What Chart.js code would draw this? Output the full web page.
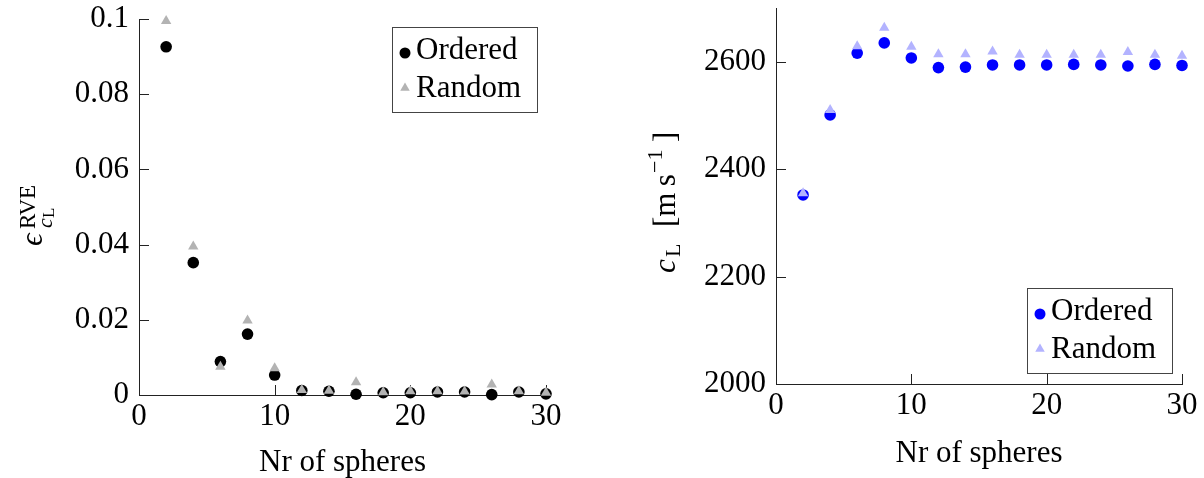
<!DOCTYPE html>
<html>
<head>
<meta charset="utf-8">
<script src="https://cdn.jsdelivr.net/npm/chart.js@4.4.0/dist/chart.umd.min.js"></script>
<style>
  html, body { margin: 0; padding: 0; background: #fff; }
  .panel { position: absolute; top: 0; }
  #leftPanel { left: 0; }
  #rightPanel { left: 620px; }
</style>
</head>
<body>
<div class="panel" id="leftPanel"><canvas id="errChart" width="590" height="478"></canvas></div>
<div class="panel" id="rightPanel"><canvas id="speedChart" width="584" height="478"></canvas></div>
<script>
// number of spheres in the RVE
const spheres = [2, 4, 6, 8, 10, 12, 14, 16, 18, 20, 22, 24, 26, 28, 30];

// RVE error of c_L
const errOrdered = [0.0926, 0.0352, 0.0089, 0.0162, 0.0053, 0.0012, 0.0010, 0.0002, 0.0006, 0.0006, 0.0008, 0.0008, 0.0001, 0.0008, 0.0003];
const errRandom  = [0.0995, 0.0395, 0.0075, 0.0198, 0.0071, 0.0013, 0.0011, 0.0034, 0.0007, 0.0010, 0.0010, 0.0009, 0.0028, 0.0010, 0.0006];

// longitudinal wave speed c_L [m/s]
const speedOrdered = [2352, 2501, 2616, 2635, 2607, 2589, 2590, 2594, 2594, 2594, 2595, 2594, 2592, 2595, 2593];
const speedRandom  = [2355, 2510, 2629, 2663, 2628, 2614, 2614, 2619, 2613, 2613, 2613, 2613, 2618, 2613, 2611];

const xTicks = [0, 10, 20, 30];
const errTicks = [0, 0.02, 0.04, 0.06, 0.08, 0.1];
const speedTicks = [2000, 2200, 2400, 2600];

const seriesNames = ['Ordered', 'Random'];
const xTitle = 'Nr of spheres';

const FONT = '"Liberation Serif", "Times New Roman", serif';
const axisColor = '#222';

function pts(ys) {
  return spheres.map((x, i) => ({ x: x, y: ys[i] }));
}

// short tick marks pointing into the plot, pgfplots style
const inwardTicks = {
  id: 'inwardTicks',
  beforeDatasetsDraw(chart) {
    const { ctx, chartArea: a, scales: { x, y } } = chart;
    ctx.save();
    ctx.strokeStyle = axisColor;
    ctx.lineWidth = 1;
    ctx.beginPath();
    x.ticks.forEach(t => {
      const px = Math.round(x.getPixelForValue(t.value)) + 0.5;
      ctx.moveTo(px, a.bottom);
      ctx.lineTo(px, a.bottom - 10);
    });
    y.ticks.forEach(t => {
      const py = Math.round(y.getPixelForValue(t.value)) + 0.5;
      ctx.moveTo(a.left, py);
      ctx.lineTo(a.left + 10, py);
    });
    ctx.stroke();
    ctx.restore();
  }
};

// boxed legend inside the plot area
const boxLegend = {
  id: 'boxLegend',
  afterDraw(chart, args, opts) {
    const { ctx, chartArea: a } = chart;
    const w = 145, h = 85;
    const left = a.right - opts.right - w;
    const top = opts.top != null ? a.top + opts.top : a.bottom - opts.bottom - h;
    ctx.save();
    ctx.fillStyle = '#fff';
    ctx.fillRect(left, top, w, h);
    ctx.strokeStyle = '#444';
    ctx.lineWidth = 1;
    ctx.strokeRect(Math.round(left) + 0.5, Math.round(top) + 0.5, w, h);
    ctx.font = '31px ' + FONT;
    ctx.textBaseline = 'alphabetic';
    ctx.textAlign = 'left';
    chart.data.datasets.forEach((ds, i) => {
      const my = top + 26 + i * 35;
      ctx.fillStyle = ds.backgroundColor;
      ctx.beginPath();
      if (ds.pointStyle === 'triangle') {
        const r = 5.5;
        ctx.moveTo(left + 13, my - r);
        ctx.lineTo(left + 13 + r * 0.866, my + r * 0.5);
        ctx.lineTo(left + 13 - r * 0.866, my + r * 0.5);
        ctx.closePath();
      } else {
        ctx.arc(left + 13, my, 5.5, 0, Math.PI * 2);
      }
      ctx.fill();
      ctx.fillStyle = '#000';
      ctx.fillText(ds.label, left + 24, top + 32 + i * 38);
    });
    ctx.restore();
  }
};

// rotated y axis title made of pieces (sub/superscripts)
const mathTitle = {
  id: 'mathTitle',
  afterDraw(chart, args, opts) {
    const { ctx } = chart;
    ctx.save();
    ctx.translate(opts.x, opts.y);
    ctx.rotate(-Math.PI / 2);
    ctx.fillStyle = '#000';
    ctx.textBaseline = 'alphabetic';
    ctx.textAlign = 'left';
    opts.parts.forEach(p => {
      ctx.font = p.font;
      ctx.fillText(p.text, p.dx, p.dy);
    });
    ctx.restore();
  }
};

function makeOptions(cfg) {
  return {
    responsive: false,
    animation: false,
    layout: { padding: { left: 0, top: cfg.padTop, right: cfg.padRight, bottom: 0 } },
    scales: {
      x: {
        type: 'linear',
        min: 0, max: 30,
        afterFit(s) { s.height = cfg.xHeight; },
        afterBuildTicks(s) { s.ticks = xTicks.map(v => ({ value: v })); },
        grid: { display: false, drawTicks: false },
        border: { display: true, color: axisColor, width: 1 },
        ticks: { color: '#000', font: { family: FONT, size: 31 }, padding: 3, maxRotation: 0 },
        title: { display: true, text: xTitle, color: '#000', font: { family: FONT, size: 31, lineHeight: 1 }, padding: { top: 0, bottom: cfg.titlePad } }
      },
      y: {
        type: 'linear',
        min: cfg.yMin, max: cfg.yMax,
        afterFit(s) { s.width = cfg.yWidth; s.paddingTop = 0; s.paddingBottom = 0; },
        afterBuildTicks(s) { s.ticks = cfg.yTicks.map(v => ({ value: v })); },
        grid: { display: false, drawTicks: false },
        border: { display: true, color: axisColor, width: 1 },
        ticks: { color: '#000', font: { family: FONT, size: 31 }, padding: 10, callback: v => String(v) }
      }
    },
    plugins: {
      legend: { display: false },
      tooltip: { enabled: false },
      boxLegend: cfg.legend,
      mathTitle: cfg.title
    }
  };
}

new Chart(document.getElementById('errChart'), {
  type: 'scatter',
  data: {
    datasets: [
      { label: seriesNames[0], data: pts(errOrdered), backgroundColor: '#000000', borderWidth: 0, pointStyle: 'circle', pointRadius: 5.8, order: 1, clip: false },
      { label: seriesNames[1], data: pts(errRandom), backgroundColor: '#b3b3b3', borderWidth: 0, pointStyle: 'triangle', pointRadius: 6, order: 0, clip: false }
    ]
  },
  options: makeOptions({
    padTop: 19, padRight: 44, xHeight: 83, yWidth: 139, titlePad: 0,
    yMin: 0, yMax: 0.1, yTicks: errTicks,
    legend: { right: 9, top: 8 },
    title: {
      x: 42, y: 246,
      parts: [
        { text: 'ϵ', font: 'italic 31px ' + FONT, dx: 0, dy: 0 },
        { text: 'RVE', font: '23px ' + FONT, dx: 17, dy: -7 },
        { text: 'c', font: 'italic 22px ' + FONT, dx: 18, dy: 10 },
        { text: 'L', font: '17px ' + FONT, dx: 28, dy: 12 }
      ]
    }
  }),
  plugins: [inwardTicks, boxLegend, mathTitle]
});

new Chart(document.getElementById('speedChart'), {
  type: 'scatter',
  data: {
    datasets: [
      { label: seriesNames[0], data: pts(speedOrdered), backgroundColor: '#0000ff', borderWidth: 0, pointStyle: 'circle', pointRadius: 5.8, order: 1, clip: false },
      { label: seriesNames[1], data: pts(speedRandom), backgroundColor: '#b3b3ff', borderWidth: 0, pointStyle: 'triangle', pointRadius: 6, order: 0, clip: false }
    ]
  },
  options: makeOptions({
    padTop: 8, padRight: 22, xHeight: 94, yWidth: 156, titlePad: 9,
    yMin: 2000, yMax: 2700, yTicks: speedTicks,
    legend: { right: 10, bottom: 11 },
    title: {
      x: 55, y: 273,
      parts: [
        { text: 'c', font: 'italic 31px ' + FONT, dx: 0, dy: 0 },
        { text: 'L', font: '22px ' + FONT, dx: 16, dy: 5 },
        { text: '[m\u2009s', font: '31px ' + FONT, dx: 46, dy: 0 },
        { text: '\u22121', font: '22px ' + FONT, dx: 100, dy: -13 },
        { text: ']', font: '31px ' + FONT, dx: 131, dy: 0 }
      ]
    }
  }),
  plugins: [inwardTicks, boxLegend, mathTitle]
});
</script>
</body>
</html>
